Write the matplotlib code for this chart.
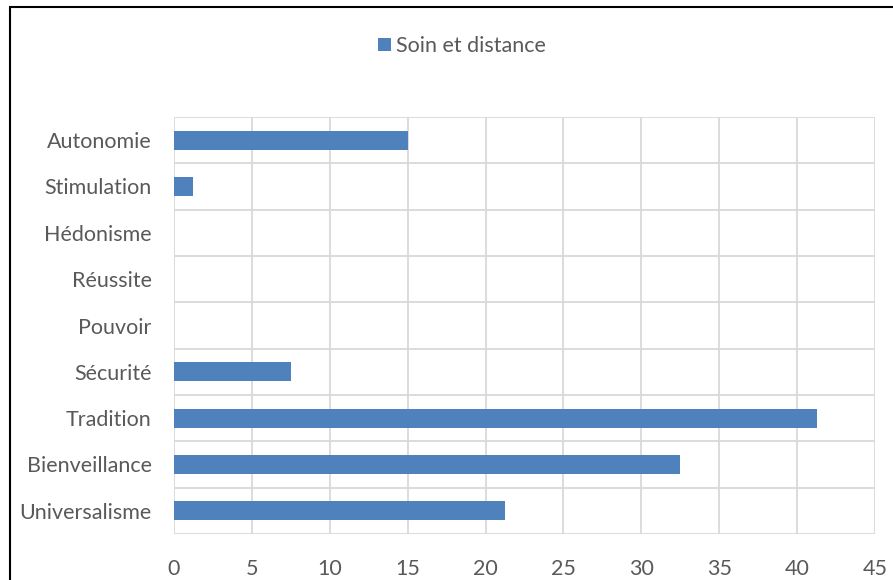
import matplotlib.pyplot as plt
from matplotlib.patches import Rectangle
from matplotlib.ticker import MultipleLocator, FixedLocator

categories = ['Universalisme', 'Bienveillance', 'Tradition', 'Sécurité', 'Pouvoir',
              'Réussite', 'Hédonisme', 'Stimulation', 'Autonomie']
values = [21.25, 32.5, 41.25, 7.5, 0, 0, 0, 1.25, 15]
series_name = 'Soin et distance'

plt.rcParams['font.family'] = ['Lato', 'DejaVu Sans']
text_color = '#595959'
grid_color = '#D9D9D9'
bar_color = '#4F81BD'

fig = plt.figure(figsize=(8.93, 5.8), dpi=100)
ax = fig.add_axes([174 / 893, 46 / 580, 701 / 893, 417 / 580])

pos = list(range(len(categories)))
ax.barh(pos, values, height=0.41, color=bar_color, label=series_name, zorder=3)

ax.set_xlim(0, 45)
ax.set_ylim(-0.5, len(categories) - 0.5)
ax.xaxis.set_major_locator(MultipleLocator(5))
ax.set_yticks(pos)
ax.set_yticklabels(categories)
ax.yaxis.set_minor_locator(FixedLocator([p - 0.5 for p in range(len(categories) + 1)]))

ax.grid(axis='x', which='major', color=grid_color, linewidth=1.3, zorder=0)
ax.grid(axis='y', which='minor', color=grid_color, linewidth=1.3, zorder=0)
ax.grid(axis='y', which='major', visible=False)
for s in ax.spines.values():
    s.set_visible(False)

ax.tick_params(axis='both', which='both', length=0, labelsize=15.5, colors=text_color)
ax.tick_params(axis='x', pad=18)
ax.tick_params(axis='y', pad=16)

leg = fig.legend(loc='center', bbox_to_anchor=(0.517, 1 - 46 / 580), frameon=False,
                 fontsize=15.5, handlelength=0.6, handleheight=0.6, handletextpad=0.25,
                 labelcolor=text_color)

# outer chart border (cropped at right and bottom)
fig.patches.append(Rectangle((10 / 893, -0.05), 1.1, 1 - 7 / 580 + 0.05,
                             transform=fig.transFigure, fill=False,
                             edgecolor='black', linewidth=1.5))

fig.savefig('out.png', dpi=100)
